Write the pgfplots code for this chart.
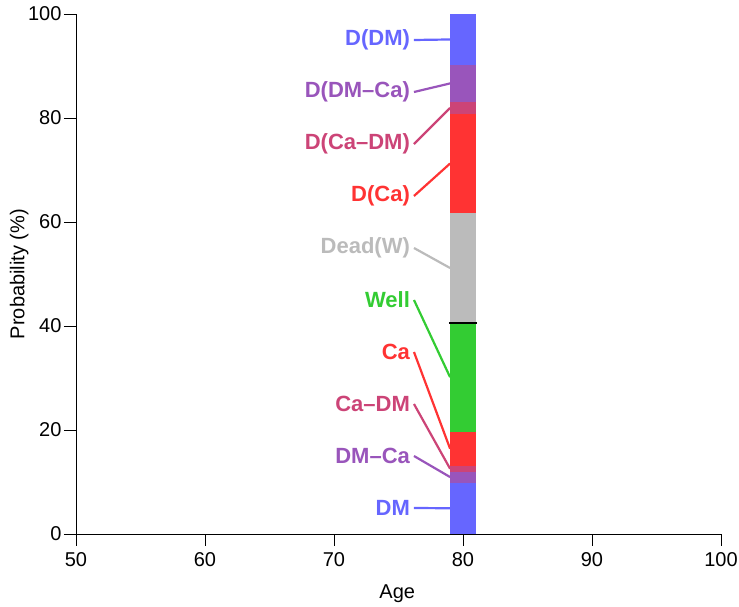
\documentclass[border=0pt]{standalone}
\usepackage{pgfplots}
\pgfplotsset{compat=1.18}
\usepackage{fontspec}
\setmainfont{Liberation Sans}
\definecolor{cDM}{HTML}{6666FF}
\definecolor{cDMCa}{HTML}{9955BB}
\definecolor{cCaDM}{HTML}{CC4477}
\definecolor{cCa}{HTML}{FF3333}
\definecolor{cWell}{HTML}{33CC33}
\definecolor{cDead}{HTML}{BBBBBB}
\begin{document}
\begin{tikzpicture}
\begin{axis}[
  scale only axis, width=645pt, height=520pt,
  xmin=50, xmax=100, ymin=0, ymax=100,
  axis lines=left, axis line style={-, line width=0.9pt},
  xtick={50,60,...,100}, ytick={0,20,...,100},
  tick align=outside, tick style={black, line width=0.9pt}, major tick length=12pt,
  /pgf/number format/assume math mode=true,
  ticklabel style={font=\fontsize{20}{23}\selectfont},
  yticklabel style={xshift=1pt},
  xticklabel style={yshift=-3pt},
  label style={font=\fontsize{20}{23}\selectfont},
  xlabel={Age}, ylabel={Probability (\%)},
  xlabel style={at={(axis description cs:0.498,-0.115)}, anchor=center},
  ylabel style={at={(axis description cs:-0.088,0.5)}, anchor=center},
  clip=false,
]
% bar segments (cumulative boundaries)
\addplot[fill=cDM, draw=none] coordinates {(79,0) (81,0) (81,9.9) (79,9.9)} -- cycle;
\addplot[fill=cDMCa, draw=none] coordinates {(79,9.9) (81,9.9) (81,12.0) (79,12.0)} -- cycle;
\addplot[fill=cCaDM, draw=none] coordinates {(79,12.0) (81,12.0) (81,13.1) (79,13.1)} -- cycle;
\addplot[fill=cCa, draw=none] coordinates {(79,13.1) (81,13.1) (81,19.7) (79,19.7)} -- cycle;
\addplot[fill=cWell, draw=none] coordinates {(79,19.7) (81,19.7) (81,40.6) (79,40.6)} -- cycle;
\addplot[fill=cDead, draw=none] coordinates {(79,40.6) (81,40.6) (81,61.7) (79,61.7)} -- cycle;
\addplot[fill=cCa, draw=none] coordinates {(79,61.7) (81,61.7) (81,80.8) (79,80.8)} -- cycle;
\addplot[fill=cCaDM, draw=none] coordinates {(79,80.8) (81,80.8) (81,83.1) (79,83.1)} -- cycle;
\addplot[fill=cDMCa, draw=none] coordinates {(79,83.1) (81,83.1) (81,90.2) (79,90.2)} -- cycle;
\addplot[fill=cDM, draw=none] coordinates {(79,90.2) (81,90.2) (81,100) (79,100)} -- cycle;
% black separator
\addplot[black, line width=1.6pt] coordinates {(78.9,40.6) (81.1,40.6)};
% leader lines
\addplot[cDM, line width=2.2pt] coordinates {(76.2,5) (79,4.95)};
\addplot[cDMCa, line width=2.2pt] coordinates {(76.2,15) (79,10.95)};
\addplot[cCaDM, line width=2.2pt] coordinates {(76.2,25) (79,12.55)};
\addplot[cCa, line width=2.2pt] coordinates {(76.2,35) (79,16.4)};
\addplot[cWell, line width=2.2pt] coordinates {(76.2,45) (79,30.15)};
\addplot[cDead, line width=2.2pt] coordinates {(76.2,55) (79,51.15)};
\addplot[cCa, line width=2.2pt] coordinates {(76.2,65) (79,71.25)};
\addplot[cCaDM, line width=2.2pt] coordinates {(76.2,75) (79,81.95)};
\addplot[cDMCa, line width=2.2pt] coordinates {(76.2,85) (79,86.65)};
\addplot[cDM, line width=2.2pt] coordinates {(76.2,95) (79,95.1)};
% labels
\begin{scope}[every node/.style={anchor=east, font=\fontsize{22}{26}\selectfont\bfseries, inner sep=0pt}]
\node[text=cDM] at (axis cs:75.9,5) {DM};
\node[text=cDMCa] at (axis cs:75.9,15) {DM–Ca};
\node[text=cCaDM] at (axis cs:75.9,25) {Ca–DM};
\node[text=cCa] at (axis cs:75.9,35) {Ca};
\node[text=cWell] at (axis cs:75.9,45) {Well};
\node[text=cDead] at (axis cs:75.9,55) {Dead(W)};
\node[text=cCa] at (axis cs:75.9,65) {D(Ca)};
\node[text=cCaDM] at (axis cs:75.9,75) {D(Ca–DM)};
\node[text=cDMCa] at (axis cs:75.9,85) {D(DM–Ca)};
\node[text=cDM] at (axis cs:75.9,95) {D(DM)};
\end{scope}
\end{axis}
\pgfresetboundingbox
\path[use as bounding box] (current axis.south west) ++(-76pt,-73pt) rectangle ++(739pt,607pt);
\end{tikzpicture}
\end{document}
